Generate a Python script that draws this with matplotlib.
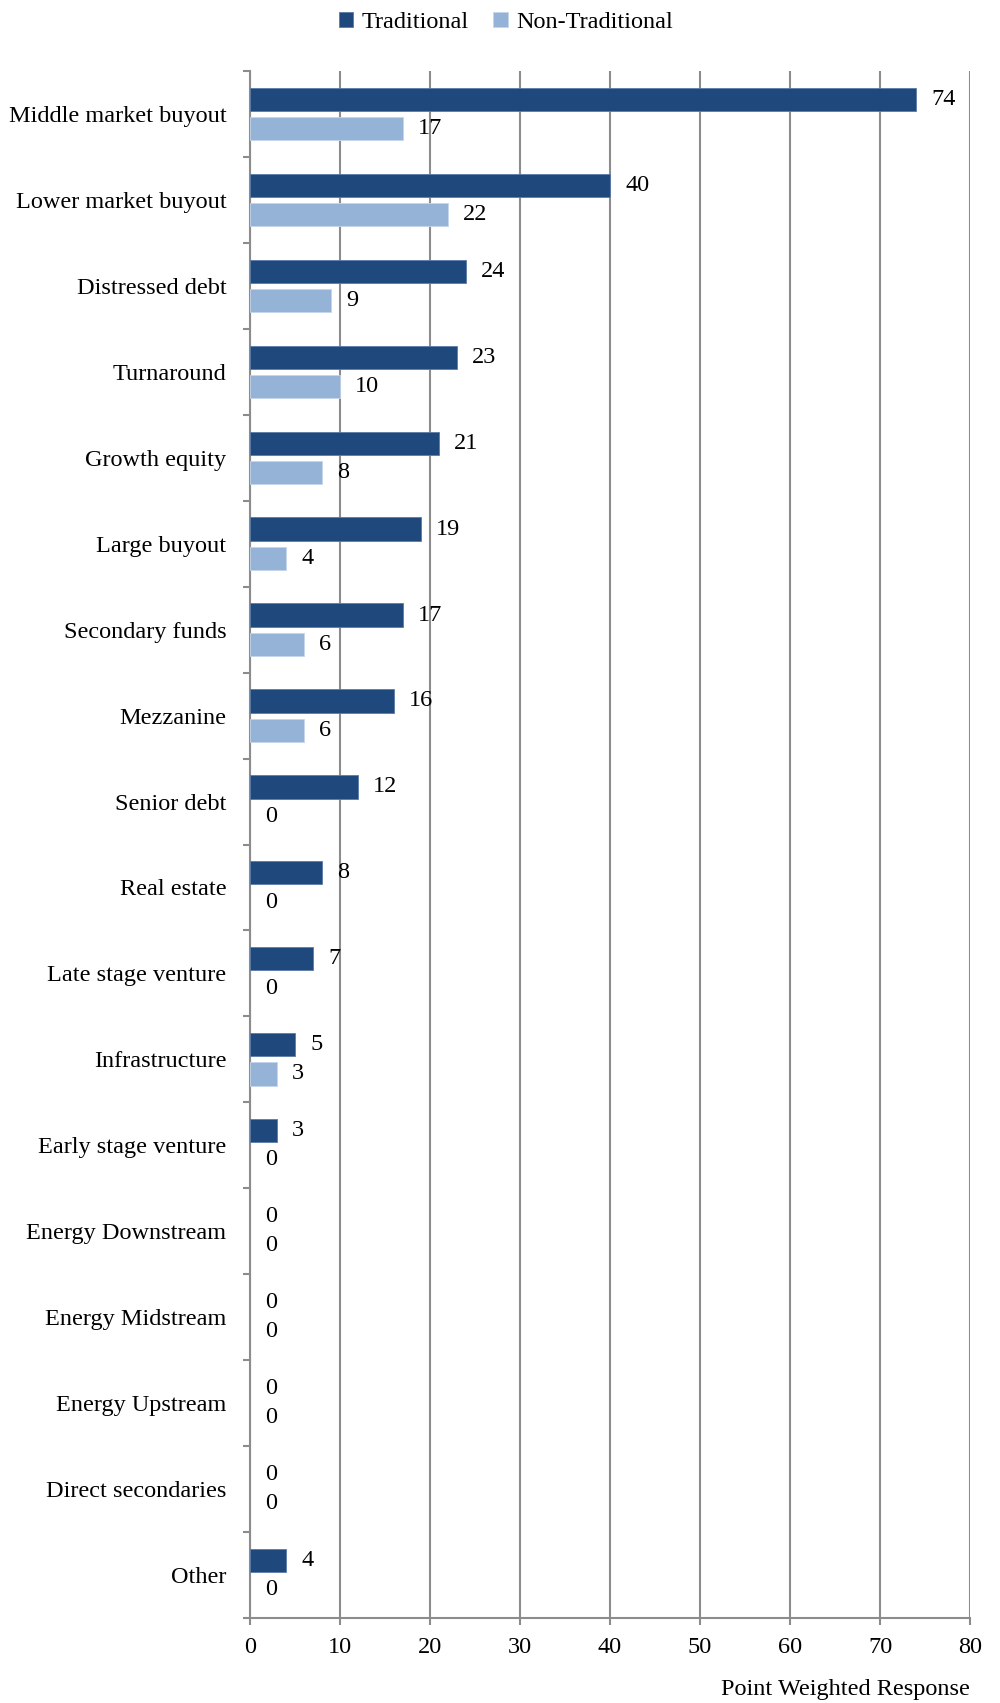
import matplotlib
matplotlib.use("Agg")
import matplotlib.pyplot as plt
import numpy as np

categories = [
    "Middle market buyout", "Lower market buyout", "Distressed debt", "Turnaround",
    "Growth equity", "Large buyout", "Secondary funds", "Mezzanine", "Senior debt",
    "Real estate", "Late stage venture", "Infrastructure", "Early stage venture",
    "Energy Downstream", "Energy Midstream", "Energy Upstream", "Direct secondaries",
    "Other",
]
traditional = [74, 40, 24, 23, 21, 19, 17, 16, 12, 8, 7, 5, 3, 0, 0, 0, 0, 4]
non_traditional = [17, 22, 9, 10, 8, 4, 6, 6, 0, 0, 0, 3, 0, 0, 0, 0, 0, 0]
x_ticks = [0, 10, 20, 30, 40, 50, 60, 70, 80]

plt.rcParams["font.family"] = ["Liberation Serif", "DejaVu Serif"]
FS = 17.5
DARK = "#1f497d"
LIGHT = "#95b3d7"
GRID = "#8c8c8c"

fig = plt.figure(figsize=(10, 17.03), dpi=100)
ax = fig.add_axes([0.25, 0.0499, 0.72, 0.9084])

y = np.arange(len(categories))
h = 0.27
off = 0.17
b1 = ax.barh(y - off, traditional, height=h, color=DARK, edgecolor="#5a7ca8",
             linewidth=[0.6 if v else 0 for v in traditional],
             label="Traditional", zorder=3)
b2 = ax.barh(y + off, non_traditional, height=h, color=LIGHT, edgecolor="#c5d6ea",
             linewidth=[0.6 if v else 0 for v in non_traditional],
             label="Non-Traditional", zorder=3)

for bars, vals in ((b1, traditional), (b2, non_traditional)):
    for rect, v in zip(bars, vals):
        ax.annotate(f"{v}", xy=(v, rect.get_y() + rect.get_height() / 2),
                    xytext=(15, 0), textcoords="offset pixels",
                    ha="left", va="center", fontsize=FS, color="black", zorder=4)

ax.set_xlim(0, 80)
ax.set_ylim(len(categories) - 0.5, -0.5)
ax.set_xticks(x_ticks)
ax.set_xticklabels([str(t) for t in x_ticks], fontsize=FS)
ax.set_yticks(y)
ax.set_yticklabels(categories, fontsize=FS)
ax.set_yticks(np.arange(-0.5, len(categories) + 0.5, 1), minor=True)
ax.tick_params(axis="y", which="major", length=0, pad=17)
ax.tick_params(axis="y", which="minor", length=5, width=1.5, color=GRID, direction="out")
ax.tick_params(axis="x", which="major", length=5, width=1.5, color=GRID, direction="out", pad=9)

ax.grid(axis="x", color=GRID, linewidth=1.5, zorder=0)
ax.set_axisbelow(True)
for side in ("top", "right"):
    ax.spines[side].set_visible(False)
for side in ("left", "bottom"):
    ax.spines[side].set_color(GRID)
    ax.spines[side].set_linewidth(1.5)

fig.legend(handles=[b1, b2], labels=["Traditional", "Non-Traditional"],
           loc="upper center", bbox_to_anchor=(0.506, 1.006), ncol=2, frameon=False,
           fontsize=FS, handlelength=0.6, handleheight=0.6, handletextpad=0.35,
           columnspacing=1.0)

fig.text(0.97, 1 - 1689 / 1703, "Point Weighted Response", ha="right", va="center",
         fontsize=FS)

fig.savefig("out.png", dpi=100)
